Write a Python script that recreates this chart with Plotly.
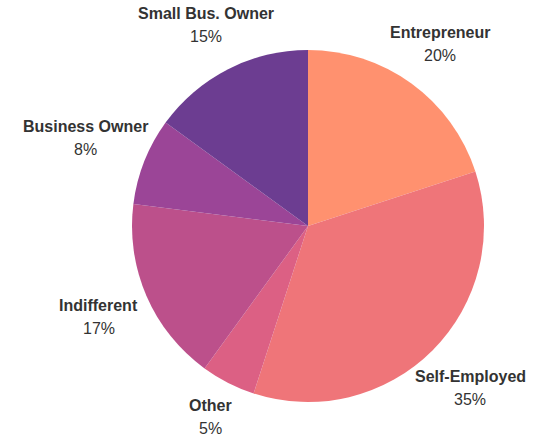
import math
import plotly.graph_objects as go

# Share of respondents by how they describe themselves
categories = ["Entrepreneur", "Self-Employed", "Other", "Indifferent",
              "Business Owner", "Small Bus. Owner"]
shares = [20, 35, 5, 17, 8, 15]
slice_colors = ["#FF916F", "#EF7579", "#DC6084", "#BC508B", "#9B4597", "#6C3D91"]

W, H = 543, 441
CX, CY, R = 308, 226, 176  # pie centre and radius in pixels
FONT = "Liberation Sans, Arial, sans-serif"
FSIZE = 16
LINE_GAP = 23
LABEL_PAD = 34

# Approximate bold glyph advance widths (per 1000 em) used to keep labels clear of the pie
BOLD_W = {"a": 556, "b": 611, "c": 556, "d": 611, "e": 556, "f": 333, "h": 611,
          "i": 278, "l": 278, "m": 889, "n": 611, "o": 611, "p": 611, "r": 389,
          "s": 556, "t": 333, "u": 611, "w": 778, "y": 556, "B": 722, "E": 667,
          "I": 278, "O": 778, "S": 667, " ": 278, ".": 278, "-": 333}


def text_width(s):
    return sum(BOLD_W.get(ch, 600) for ch in s) * FSIZE / 1000


fig = go.Figure(go.Pie(
    labels=categories,
    values=shares,
    sort=False,
    direction="clockwise",
    rotation=0,
    marker=dict(colors=slice_colors, line=dict(width=0)),
    textinfo="none",
    hoverinfo="label+percent",
    domain=dict(x=[(CX - R) / W, (CX + R) / W],
                y=[1 - (CY + R) / H, 1 - (CY - R) / H]),
    showlegend=False,
))

# Outside labels, placed along each slice's mid angle
total = sum(shares)
cum = 0
annotations = []
for name, v in zip(categories, shares):
    mid = (cum + v / 2) / total * 2 * math.pi
    cum += v
    ux, uy = math.sin(mid), -math.cos(mid)
    r_lab = R + LABEL_PAD + 0.25 * abs(ux) * text_width(name)
    px = CX + ux * r_lab
    py = CY + uy * r_lab
    pct = round(v / total * 100)
    annotations.append(dict(
        x=px / W, y=1 - (py - LINE_GAP / 2) / H, xref="paper", yref="paper",
        text=f"<b>{name}</b>", showarrow=False,
        xanchor="center", yanchor="middle",
        font=dict(family=FONT, size=FSIZE, color="#333333"),
    ))
    annotations.append(dict(
        x=px / W, y=1 - (py + LINE_GAP / 2) / H, xref="paper", yref="paper",
        text=f"{pct}%", showarrow=False,
        xanchor="center", yanchor="middle",
        font=dict(family=FONT, size=FSIZE, color="#333333"),
    ))

fig.update_layout(
    width=W, height=H,
    margin=dict(l=0, r=0, t=0, b=0),
    paper_bgcolor="white",
    plot_bgcolor="white",
    annotations=annotations,
)

fig.write_html("out.html")
